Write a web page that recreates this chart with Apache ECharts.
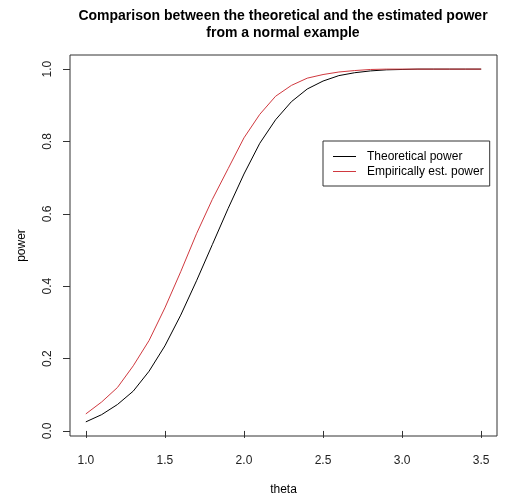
<!DOCTYPE html>
<html lang="en">
<head>
    <meta charset="UTF-8">
    <title>Power comparison</title>
    <script src="https://cdn.jsdelivr.net/npm/echarts@6/dist/echarts.min.js"></script>
    <style>
        html, body { margin: 0; padding: 0; background: #fff; }
    </style>
</head>
<body>
<div id="main" style="width: 506px;height: 496px;"></div>
</body>
    <script type="text/javascript">
        var theta = [1.0, 1.1, 1.2, 1.3, 1.4, 1.5, 1.6, 1.7, 1.8, 1.9,
                     2.0, 2.1, 2.2, 2.3, 2.4, 2.5, 2.6, 2.7, 2.8, 2.9,
                     3.0, 3.1, 3.2, 3.3, 3.4, 3.5];
        var theoretical = [0.025, 0.045, 0.073, 0.11, 0.165, 0.235, 0.32, 0.415, 0.515, 0.615,
                           0.71, 0.795, 0.86, 0.91, 0.945, 0.967, 0.982, 0.99, 0.995, 0.998,
                           0.999, 1.0, 1.0, 1.0, 1.0, 1.0];
        var empirical = [0.047, 0.08, 0.12, 0.18, 0.25, 0.34, 0.44, 0.545, 0.64, 0.725,
                         0.81, 0.875, 0.925, 0.955, 0.975, 0.985, 0.992, 0.996, 0.999, 1.0,
                         1.0, 1.0, 1.0, 1.0, 1.0, 1.0];
        var xTicks = [1.0, 1.5, 2.0, 2.5, 3.0, 3.5];
        var yTicks = [0.0, 0.2, 0.4, 0.6, 0.8, 1.0];

        function pairs(ys) {
            var out = [];
            for (var i = 0; i < theta.length; i++) {
                out.push([theta[i], ys[i]]);
            }
            return out;
        }

        var myChart = echarts.init(document.getElementById('main'));
        var font = 'Liberation Sans, Arial, sans-serif';
        var red = '#D0393F';

        option = {
            backgroundColor: '#fff',
            animation: false,
            title: {
                text: 'Comparison between the theoretical and the estimated power\nfrom a normal example',
                left: 283,
                top: 8,
                padding: 0,
                textAlign: 'center',
                textStyle: {
                    fontFamily: font,
                    fontSize: 14,
                    fontWeight: 'bold',
                    color: '#000',
                    lineHeight: 17
                }
            },
            legend: {
                orient: 'vertical',
                left: 323,
                top: 141,
                padding: [8, 6, 7, 10],
                itemGap: 0,
                icon: 'rect',
                itemWidth: 23,
                itemHeight: 1,
                borderColor: '#333',
                borderWidth: 1,
                borderRadius: 0,
                textStyle: {
                    fontFamily: font,
                    fontSize: 12,
                    color: '#000',
                    lineHeight: 15,
                    padding: [0, 0, 0, 6]
                },
                data: ['Theoretical power', 'Empirically est. power']
            },
            grid: {
                left: 70,
                right: 9,
                top: 55,
                bottom: 60,
                outerBoundsMode: 'none',
                show: true,
                borderColor: '#333',
                borderWidth: 1,
                backgroundColor: 'transparent'
            },
            xAxis: {
                type: 'value',
                min: 0.9,
                max: 3.6,
                name: 'theta',
                nameLocation: 'middle',
                nameGap: 48,
                nameTextStyle: { fontFamily: font, fontSize: 12, color: '#000' },
                axisLine: { show: false },
                splitLine: { show: false },
                axisTick: {
                    show: true,
                    length: 7,
                    customValues: xTicks,
                    lineStyle: { color: '#333' }
                },
                axisLabel: {
                    customValues: xTicks,
                    margin: 19,
                    fontFamily: font,
                    fontSize: 12,
                    color: '#222',
                    formatter: function (v) { return v.toFixed(1); }
                }
            },
            yAxis: {
                type: 'value',
                min: -0.014,
                max: 1.039,
                name: 'power',
                nameLocation: 'middle',
                nameGap: 42,
                nameRotate: 90,
                nameTextStyle: { fontFamily: font, fontSize: 12, color: '#000' },
                axisLine: { show: false },
                splitLine: { show: false },
                axisTick: {
                    show: true,
                    length: 7,
                    customValues: yTicks,
                    lineStyle: { color: '#333' }
                },
                axisLabel: {
                    customValues: yTicks,
                    rotate: 90,
                    margin: 16,
                    fontFamily: font,
                    fontSize: 12,
                    color: '#222',
                    formatter: function (v) { return v.toFixed(1); }
                }
            },
            series: [{
                name: 'Theoretical power',
                type: 'line',
                data: pairs(theoretical),
                symbol: 'none',
                lineStyle: { color: '#000', width: 1 },
                itemStyle: { color: '#000' }
            }, {
                name: 'Empirically est. power',
                type: 'line',
                data: pairs(empirical),
                symbol: 'none',
                lineStyle: { color: red, width: 1 },
                itemStyle: { color: red }
            }]
        };
        myChart.setOption(option);
    </script>
</html>
